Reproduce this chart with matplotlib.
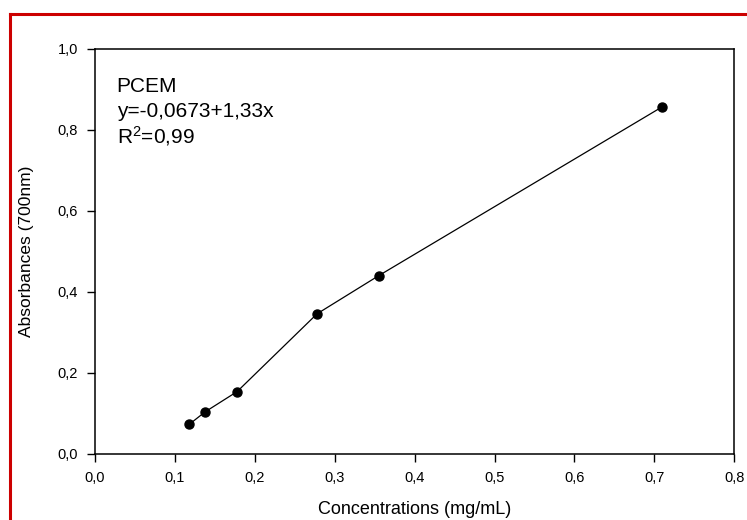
import matplotlib
matplotlib.use("Agg")
import matplotlib.pyplot as plt
from matplotlib.ticker import FuncFormatter
from matplotlib.lines import Line2D

plt.rcParams['font.family'] = ['Liberation Sans', 'DejaVu Sans']
plt.rcParams['mathtext.fontset'] = 'custom'
plt.rcParams['mathtext.rm'] = 'Liberation Sans'
plt.rcParams['mathtext.it'] = 'Liberation Sans:italic'
plt.rcParams['mathtext.bf'] = 'Liberation Sans:bold'

concentrations = [0.118, 0.138, 0.178, 0.278, 0.355, 0.709]
absorbances = [0.073, 0.104, 0.154, 0.346, 0.440, 0.856]
x_ticks = [0.0, 0.1, 0.2, 0.3, 0.4, 0.5, 0.6, 0.7, 0.8]
y_ticks = [0.0, 0.2, 0.4, 0.6, 0.8, 1.0]
annotation_lines = ['PCEM', 'y=-0,0673+1,33x', r'R$^2$=0,99']

fig = plt.figure(figsize=(7.47, 5.20), dpi=100)
ax = fig.add_axes([0.127, 0.127, 0.856, 0.779])

ax.plot(concentrations, absorbances, color='black', lw=0.9, marker='o',
        markersize=6.5, markerfacecolor='black', markeredgecolor='black')

ax.set_xlim(0, 0.8)
ax.set_ylim(0, 1.0)
ax.set_xticks(x_ticks)
ax.set_yticks(y_ticks)
fmt = FuncFormatter(lambda v, p: f"{v:.1f}".replace('.', ','))
ax.xaxis.set_major_formatter(fmt)
ax.yaxis.set_major_formatter(fmt)
ax.tick_params(direction='out', length=6, width=1, labelsize=10.5, pad=6)
for s in ax.spines.values():
    s.set_linewidth(1.1)

ax.set_xlabel('Concentrations (mg/mL)', fontsize=13, labelpad=12)
ax.set_ylabel('Absorbances (700nm)', fontsize=12.5, labelpad=17)

for txt, yb in zip(annotation_lines, [0.894, 0.832, 0.768]):
    ax.text(0.034, yb, txt, transform=ax.transAxes,
            fontsize=15, va='baseline', ha='left')

# red frame (left and top)
fig.add_artist(Line2D([0.0135, 1.0], [1 - 14/520, 1 - 14/520], color='#cc0000', lw=2.2,
                      transform=fig.transFigure))
fig.add_artist(Line2D([0.0135, 0.0135], [0.0, 1 - 14/520], color='#cc0000', lw=2.2,
                      transform=fig.transFigure))

fig.savefig('out.png', dpi=100)
